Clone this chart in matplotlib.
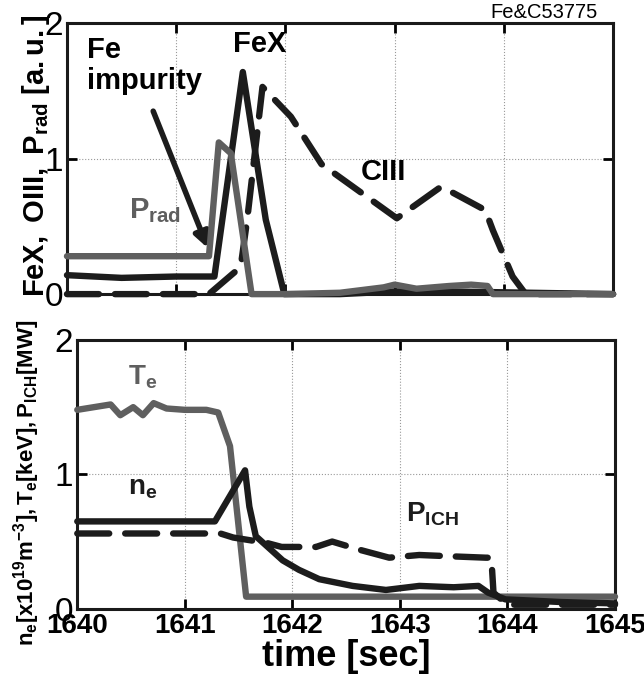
import matplotlib
matplotlib.use("Agg")
import matplotlib.pyplot as plt

plt.rcParams['font.family'] = ['Liberation Sans', 'DejaVu Sans']
plt.rcParams['mathtext.fontset'] = 'custom'
plt.rcParams['mathtext.rm'] = 'Liberation Sans'
plt.rcParams['mathtext.bf'] = 'Liberation Sans:bold'
plt.rcParams['mathtext.it'] = 'Liberation Sans:italic'

# ---- top panel data ----
t_prad = [1640.0, 1640.5, 1641.0, 1641.30, 1641.39, 1641.50, 1641.69, 1642.0, 1642.5,
          1642.9, 1643.0, 1643.2, 1643.5, 1643.7, 1643.85, 1643.9, 1644.2, 1645.0]
prad = [0.28, 0.28, 0.28, 0.28, 1.12, 1.04, 0.0, 0.0, 0.01,
        0.05, 0.07, 0.04, 0.06, 0.07, 0.06, 0.0, 0.0, 0.0]

t_fex = [1640.0, 1640.5, 1641.0, 1641.35, 1641.61, 1641.82, 1641.99, 1642.5, 1643.0, 1643.5, 1645.0]
fex = [0.14, 0.12, 0.13, 0.13, 1.64, 0.55, 0.0, 0.0, 0.02, 0.02, 0.0]

t_ciii = [1640.0, 1641.3, 1641.59, 1641.65, 1641.79, 1642.05, 1642.33, 1643.02, 1643.42,
          1643.53, 1643.83, 1643.9, 1644.08, 1644.2, 1645.0]
ciii = [0.0, 0.0, 0.2, 0.55, 1.53, 1.31, 0.96, 0.56, 0.79,
        0.75, 0.62, 0.47, 0.13, 0.0, 0.0]

# ---- bottom panel data ----
t_te = [1640.0, 1640.31, 1640.40, 1640.52, 1640.61, 1640.71, 1640.83, 1641.0, 1641.20,
        1641.31, 1641.42, 1641.57, 1642.0, 1645.0]
te = [1.48, 1.52, 1.44, 1.50, 1.44, 1.53, 1.49, 1.48, 1.48,
      1.46, 1.21, 0.09, 0.09, 0.09]

t_ne = [1640.0, 1641.28, 1641.56, 1641.60, 1641.66, 1641.91, 1642.06, 1642.25, 1642.56,
        1642.87, 1643.18, 1643.5, 1643.73, 1643.82, 1643.98, 1644.5, 1645.0]
ne = [0.65, 0.65, 1.03, 0.76, 0.54, 0.36, 0.29, 0.22, 0.17,
      0.14, 0.17, 0.16, 0.17, 0.12, 0.07, 0.05, 0.04]

t_pich = [1640.0, 1641.33, 1641.45, 1641.76, 1641.9, 1642.22, 1642.37, 1642.62, 1642.9,
          1643.18, 1643.48, 1643.80, 1643.85, 1643.87, 1644.0, 1645.0]
pich = [0.56, 0.56, 0.53, 0.49, 0.46, 0.46, 0.50, 0.44, 0.38,
        0.40, 0.39, 0.38, 0.38, 0.12, 0.03, 0.03]

xticks = [1640, 1641, 1642, 1643, 1644, 1645]
yticks = [0, 1, 2]

BLACK = '#1c1c1c'
GRAY = '#5f5f5f'
LW = 4.6
DASH = (5.0, 2.5)

fig = plt.figure(figsize=(6.44, 6.84), dpi=100)
ax1 = fig.add_axes([0.104, 0.570, 0.848, 0.396])
ax2 = fig.add_axes([0.120, 0.110, 0.835, 0.393])

for ax in (ax1, ax2):
    ax.set_xlim(1640, 1645)
    ax.set_ylim(0, 2)
    ax.set_xticks(xticks)
    ax.set_yticks(yticks)
    ax.grid(True, color='#999999', linestyle=':', linewidth=0.8)
    ax.tick_params(direction='in', length=7, width=2, top=True, right=True, pad=3)
    for s in ax.spines.values():
        s.set_linewidth(2.2)
        s.set_color('#1a1a1a')
    for lab in ax.get_yticklabels():
        lab.set_fontsize(24)

ax1.set_xticklabels([])

# top panel lines
ax1.plot(t_ciii, ciii, color=BLACK, lw=LW, dashes=DASH, dash_capstyle='round', solid_capstyle='round', clip_on=False, zorder=3)
ax1.plot(t_fex, fex, color=BLACK, lw=LW, solid_capstyle='round', solid_joinstyle='round', clip_on=False, zorder=3)
ax1.plot(t_prad, prad, color=GRAY, lw=LW, solid_capstyle='round', solid_joinstyle='round', clip_on=False, zorder=4)

ax1.text(1641.76, 1.85, 'FeX', fontsize=21, fontweight='bold', ha='center', va='center')
ax1.text(1640.18, 1.80, 'Fe', fontsize=21, fontweight='bold', ha='left', va='center')
ax1.text(1640.18, 1.57, 'impurity', fontsize=21, fontweight='bold', ha='left', va='center')
ax1.annotate('', xy=(1641.30, 0.32), xytext=(1640.78, 1.37),
             arrowprops=dict(arrowstyle='-|>', color=BLACK, lw=4, mutation_scale=22))
ax1.text(1640.57, 0.62, r'$\mathbf{P_{rad}}$', fontsize=21, color=GRAY, ha='left', va='center')
ax1.text(1642.90, 0.90, 'CIII', fontsize=21, fontweight='bold', ha='center', va='center')
ax1.text(0.9725, 1.004, 'Fe&C53775', transform=ax1.transAxes, fontsize=14.5, ha='right', va='bottom')

ax1.set_ylabel(r'$\mathbf{FeX,\ OIII,\ P_{rad}\ [a.u.]}$', fontsize=21)
ax1.yaxis.set_label_coords(-0.027, 0.51)

# bottom panel lines
ax2.plot(t_te, te, color=GRAY, lw=LW, solid_capstyle='round', solid_joinstyle='round', clip_on=False, zorder=3)
ax2.plot(t_pich, pich, color=BLACK, lw=LW, dashes=DASH, dash_capstyle='round', clip_on=False, zorder=4)
ax2.plot(t_ne, ne, color=BLACK, lw=LW, solid_capstyle='round', solid_joinstyle='round', clip_on=False, zorder=4)

ax2.text(1640.47, 1.72, r'$\mathbf{T_e}$', fontsize=20, color=GRAY, ha='left', va='center')
ax2.text(1640.47, 0.90, r'$\mathbf{n_e}$', fontsize=20, color=BLACK, ha='left', va='center')
ax2.text(1643.06, 0.70, r'$\mathbf{P_{ICH}}$', fontsize=20, color=BLACK, ha='left', va='center')

ax2.set_xticklabels([str(v) for v in xticks], fontsize=20, fontweight='bold')
ax2.set_xlabel('time [sec]', fontsize=26, fontweight='bold', labelpad=0)
ax2.set_ylabel(r'$\mathbf{n_e[x10^{19}m^{-3}],T_e[keV],P_{ICH}[MW]}$', fontsize=16)
ax2.yaxis.set_label_coords(-0.065, 0.47)

fig.savefig('out.png', dpi=100)
